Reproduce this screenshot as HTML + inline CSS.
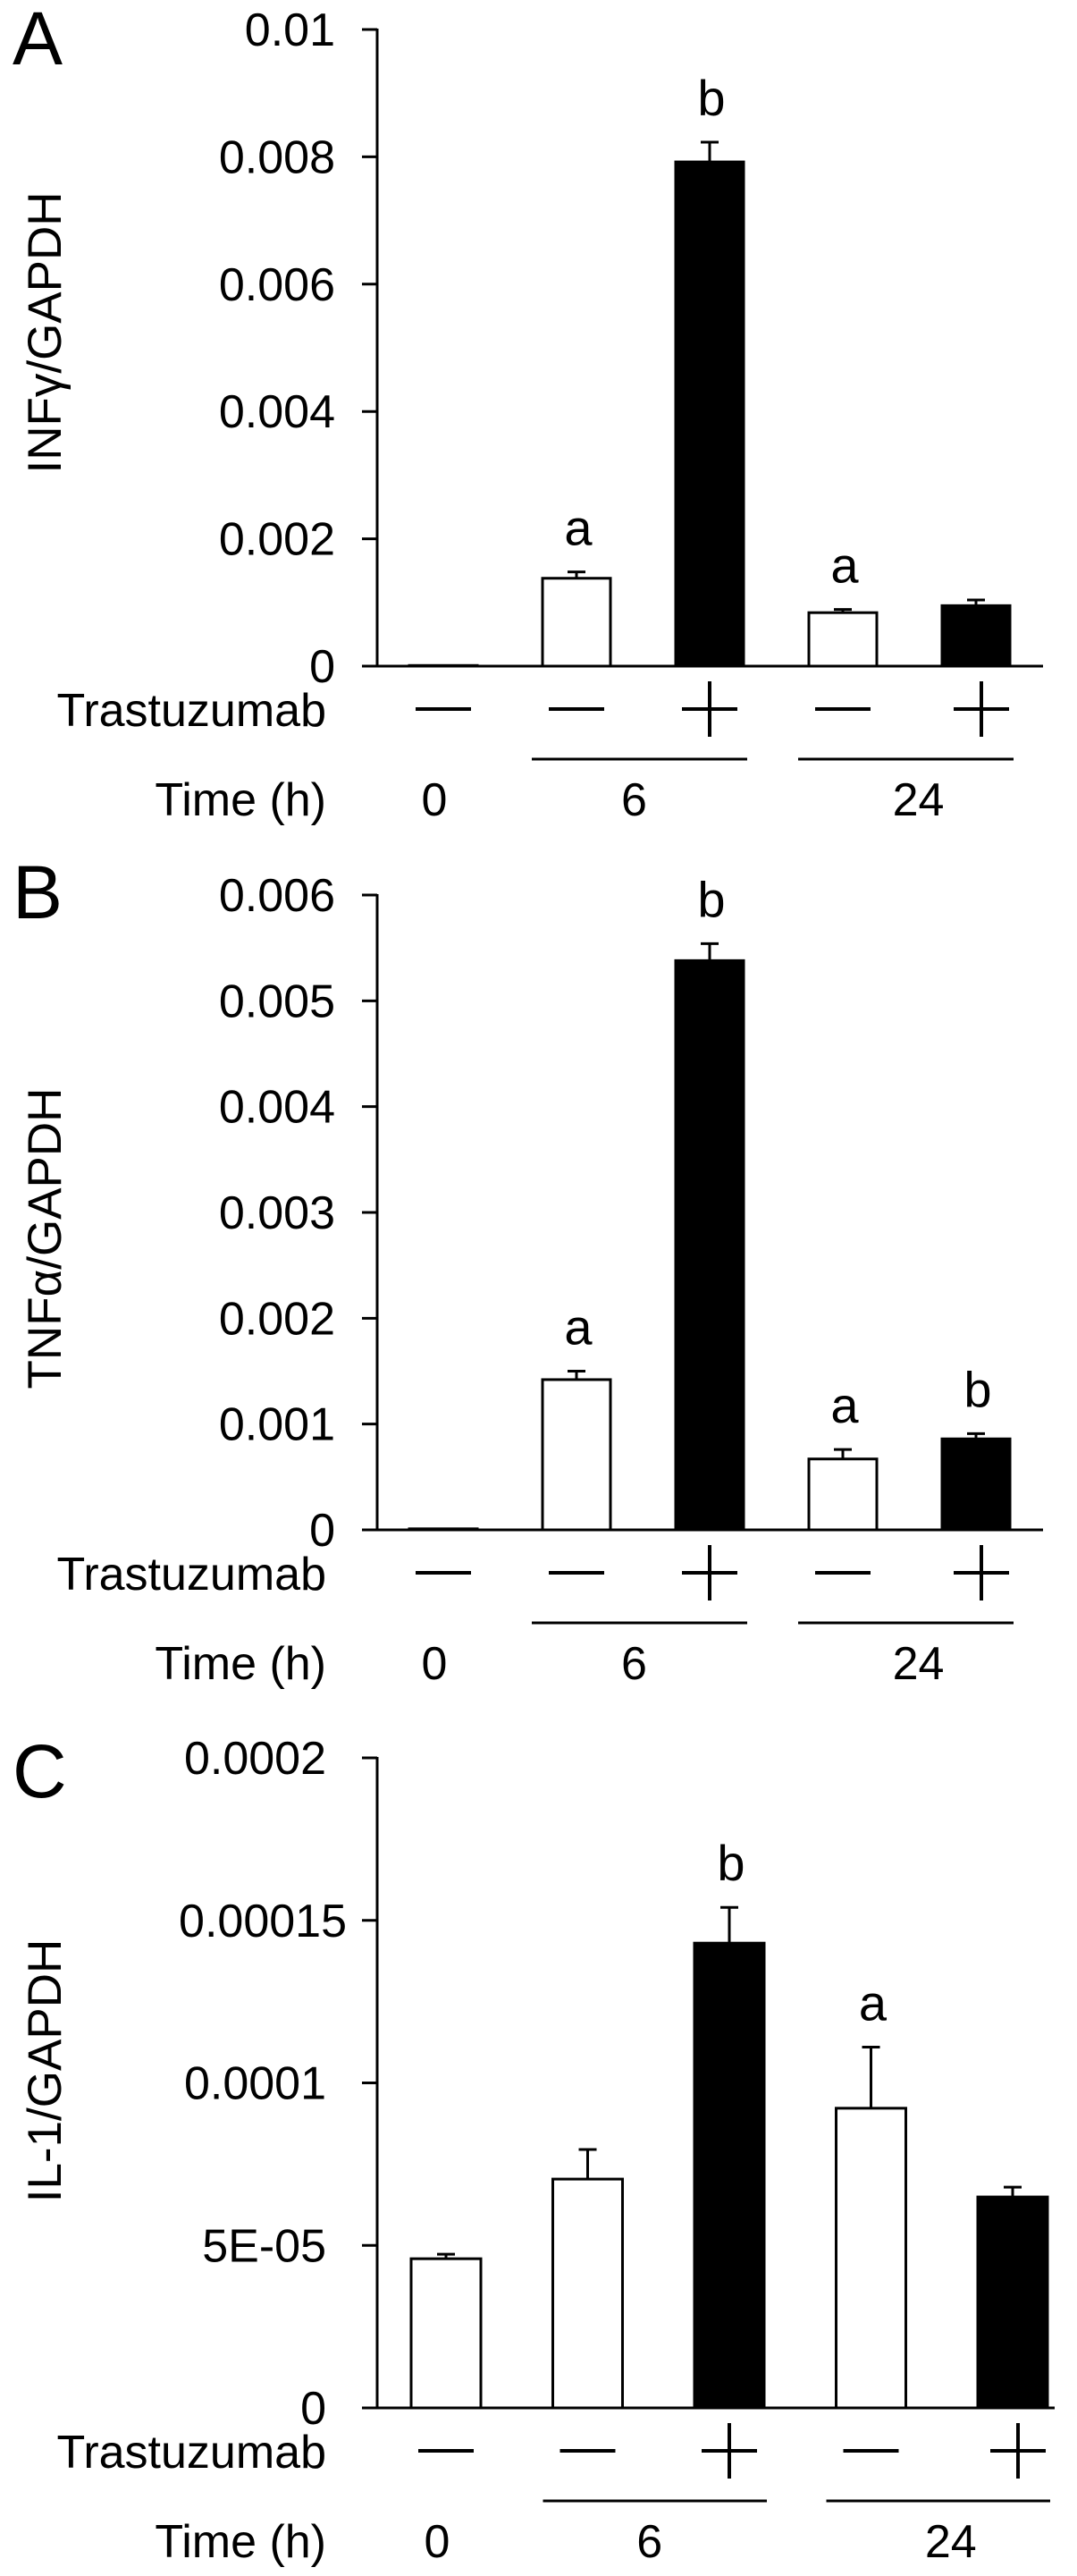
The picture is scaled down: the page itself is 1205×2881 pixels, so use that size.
<!DOCTYPE html>
<html><head><meta charset="utf-8">
<style>
html,body{margin:0;padding:0;background:#fff;}
svg{display:block;font-family:"Liberation Sans",Arial,sans-serif;}
</style></head>
<body>
<svg id="fig" width="1205" height="2881" viewBox="0 0 1205 2881" xmlns="http://www.w3.org/2000/svg"></svg>
<script>
// Panel A data
const aCategories = ["0h -", "6h -", "6h +", "24h -", "24h +"];
const aValues = [0.00001, 0.00138, 0.00792, 0.00084, 0.00095];
const aErrors = [0, 0.0001, 0.00031, 0.00005, 0.00009];
const aLetters = ["", "a", "b", "a", ""];
const aTicks = ["0", "0.002", "0.004", "0.006", "0.008", "0.01"];
const aTickValues = [0, 0.002, 0.004, 0.006, 0.008, 0.01];
// Panel B data
const bCategories = ["0h -", "6h -", "6h +", "24h -", "24h +"];
const bValues = [0.00001, 0.00142, 0.00538, 0.00067, 0.00086];
const bErrors = [0, 0.00008, 0.00016, 0.00009, 0.00005];
const bLetters = ["", "a", "b", "a", "b"];
const bTicks = ["0", "0.001", "0.002", "0.003", "0.004", "0.005", "0.006"];
const bTickValues = [0, 0.001, 0.002, 0.003, 0.004, 0.005, 0.006];
// Panel C data
const cCategories = ["0h -", "6h -", "6h +", "24h -", "24h +"];
const cValues = [0.0000459, 0.0000704, 0.000143, 0.0000922, 0.0000649];
const cErrors = [0.0000014, 0.0000091, 0.000011, 0.0000188, 0.000003];
const cLetters = ["", "", "b", "a", ""];
const cTicks = ["0", "5E-05", "0.0001", "0.00015", "0.0002"];
const cTickValues = [0, 0.00005, 0.0001, 0.00015, 0.0002];
const treatment = ["-", "-", "+", "-", "+"];
const timeLabels = ["0", "6", "24"];

const NS = "http://www.w3.org/2000/svg";
const svg = document.getElementById("fig");
function mk(tag, attrs, parent) {
  const e = document.createElementNS(NS, tag);
  for (const k in attrs) e.setAttribute(k, attrs[k]);
  (parent || svg).appendChild(e);
  return e;
}
function txt(s, x, y, size, anchor, parent) {
  const t = mk("text", {x: x, y: y, "font-size": size, "text-anchor": anchor || "middle", fill: "#000"}, parent);
  t.textContent = s;
  return t;
}

function panel(cfg) {
  const g = mk("g", {});
  
  
  const y = v => cfg.zero - (v / cfg.max) * (cfg.zero - cfg.top);
  const x = i => cfg.x0 + i * cfg.step;
  const L = txt(cfg.id.toUpperCase(), 14, cfg.letterY, 84, "start", g);
  
  
  // y title
  const yt = txt(cfg.title, 0, 0, 53, "middle", g);
  yt.setAttribute("transform", "translate(" + 68 + "," + cfg.titleY + ") rotate(-90)");
  
  
  // ticks
  cfg.tickValues.forEach((tv, i) => {
    const ty = y(tv);
    const tk = mk("line", {x1: 405, x2: 422, y1: ty, y2: ty, stroke: "#000", "stroke-width": 3}, g);
    
    
    const tl = txt(cfg.ticks[i], cfg.tickRight(cfg.ticks[i]), ty + 18, 52, "end", g);
    
    
  });
  // axes
  const ya = mk("line", {x1: 422, x2: 422, y1: cfg.top - 1, y2: cfg.zero + 1.5, stroke: "#000", "stroke-width": 3}, g);
  
  
  // bars
  cfg.values.forEach((v, i) => {
    const cx = x(i), w = cfg.bw;
    const filled = treatment[i] === "+";
    const eTop = y(v + cfg.errors[i]);
    if (cfg.errors[i] > 0) {
      const el = mk("line", {x1: cx, x2: cx, y1: eTop, y2: y(v), stroke: "#000", "stroke-width": 3}, g);
      
      
      const ec = mk("line", {x1: cx - 10, x2: cx + 10, y1: eTop, y2: eTop, stroke: "#000", "stroke-width": 3}, g);
      
      
    }
    const r = mk("rect", {x: cx - w / 2, y: y(v), width: w, height: cfg.zero - y(v), fill: filled ? "#000" : "#fff", stroke: "#000", "stroke-width": 3}, g);
    
    
    if (cfg.letters[i]) {
      const lt = txt(cfg.letters[i], cx + 2, eTop - 30, 56, "middle", g);
      
      
    }
    // treatment symbol
    const sy = cfg.zero + 48;
    const sx = cx + (i === 4 ? 6 : 0);
    const d = mk("line", {x1: sx - 31, x2: sx + 31, y1: sy, y2: sy, stroke: "#000", "stroke-width": 4}, g);
    
    
    if (treatment[i] === "+") {
      const vl = mk("line", {x1: sx, x2: sx, y1: sy - 31, y2: sy + 31, stroke: "#000", "stroke-width": 4}, g);
      
      
    }
  });
  const xa = mk("line", {x1: 410, x2: cfg.axisEnd, y1: cfg.zero, y2: cfg.zero, stroke: "#000", "stroke-width": 3}, g);
  
  
  // row labels
  const tr = txt("Trastuzumab", 365, cfg.zero + 67, 52, "end", g);
  
  
  const tm = txt("Time (h)", 365, cfg.zero + 167, 52, "end", g);
  
  
  // group lines
  const gy = cfg.zero + 104;
  [[1, 2], [3, 4]].forEach(p => {
    const gl = mk("line", {x1: x(p[0]) - 50, x2: x(p[1]) + 42, y1: gy, y2: gy, stroke: "#000", "stroke-width": 3}, g);
    
    
  });
  const tx = [x(0) - 10, (x(1) + x(2)) / 2 - 10, (x(3) + x(4)) / 2 + 10];
  timeLabels.forEach((s, i) => {
    const t = txt(s, tx[i], cfg.zero + 167, 52, "middle", g);
    
    
  });
}

panel({id: "a", title: "INFγ/GAPDH", categories: aCategories, values: aValues, errors: aErrors, letters: aLetters,
  ticks: aTicks, tickValues: aTickValues, max: 0.01, top: 33, zero: 745, x0: 496, step: 149, bw: 76,
  axisEnd: 1167, letterY: 72, titleY: 372, tickRight: s => 375});
panel({id: "b", title: "TNFα/GAPDH", categories: bCategories, values: bValues, errors: bErrors, letters: bLetters,
  ticks: bTicks, tickValues: bTickValues, max: 0.006, top: 1001, zero: 1711, x0: 496, step: 149, bw: 76,
  axisEnd: 1167, letterY: 1027, titleY: 1385, tickRight: s => 375});
panel({id: "c", title: "IL-1/GAPDH", categories: cCategories, values: cValues, errors: cErrors, letters: cLetters,
  ticks: cTicks, tickValues: cTickValues, max: 0.0002, top: 1966, zero: 2693, x0: 499, step: 158.5, bw: 78,
  axisEnd: 1180, letterY: 2010, titleY: 2316, tickRight: s => (s === "0.00015" ? 388 : 365)});
</script>
</body></html>
